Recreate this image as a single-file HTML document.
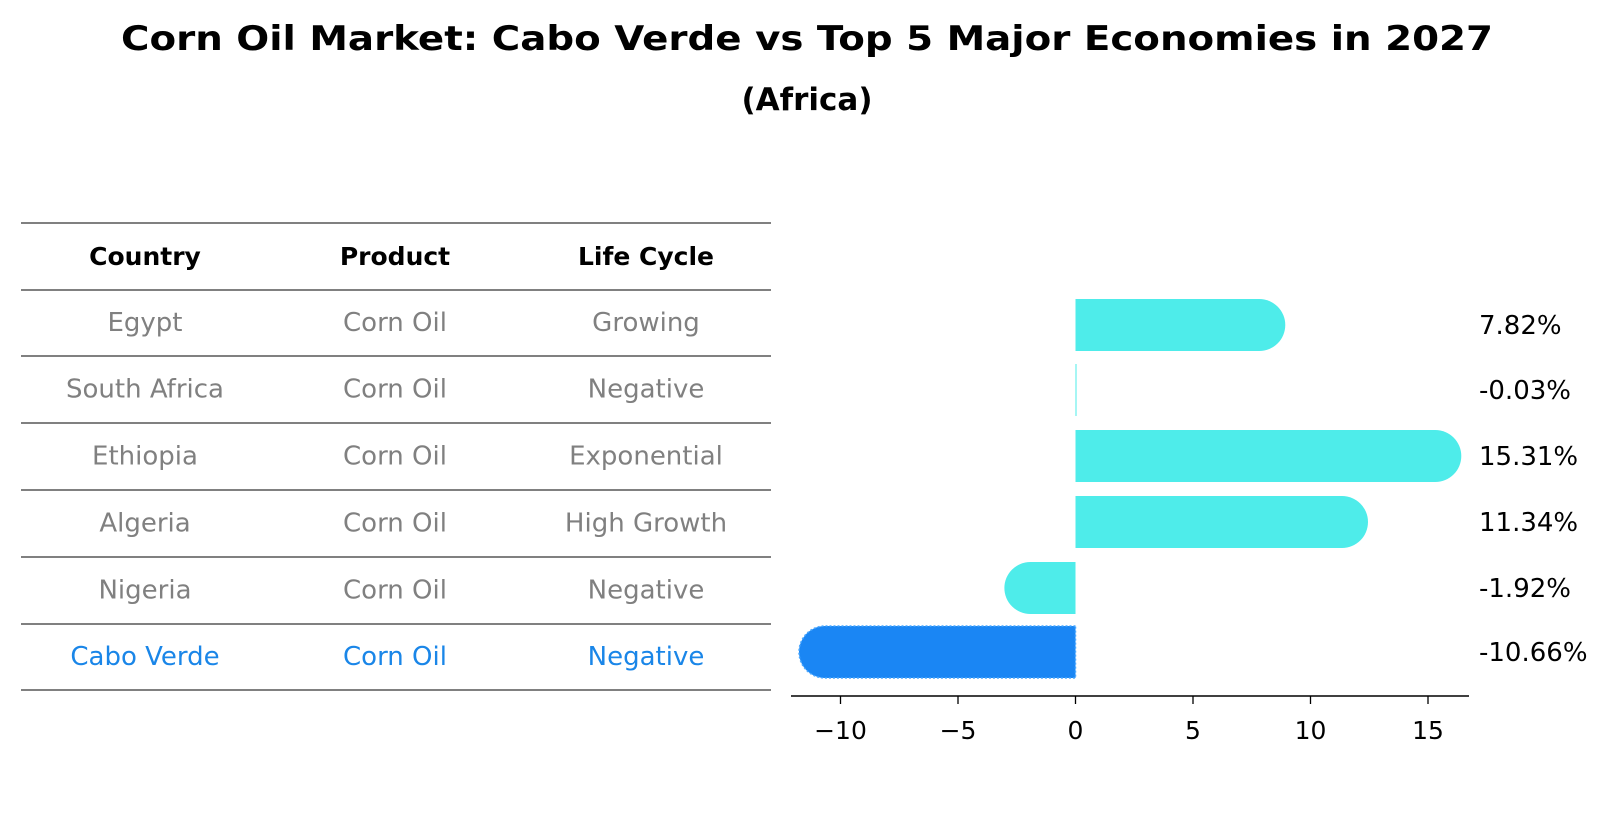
<!DOCTYPE html>
<html><head><meta charset="utf-8"><style>
body{margin:0;background:#fff;}
svg{display:block;font-family:"DejaVu Sans","Liberation Sans",sans-serif;}
</style></head><body>
<svg id="chart" width="1614" height="823" viewBox="0 0 1614 823">
<text x="807" y="50" text-anchor="middle" font-size="34" font-weight="bold" textLength="1372" lengthAdjust="spacingAndGlyphs">Corn Oil Market: Cabo Verde vs Top 5 Major Economies in 2027</text>
<text x="807" y="110" text-anchor="middle" font-size="31" font-weight="bold">(Africa)</text>
<g id="table"></g>
<g id="bars"></g>
</svg>
<script>
const countries=["Egypt","South Africa","Ethiopia","Algeria","Nigeria","Cabo Verde"];
const products=["Corn Oil","Corn Oil","Corn Oil","Corn Oil","Corn Oil","Corn Oil"];
const lifeCycles=["Growing","Negative","Exponential","High Growth","Negative","Negative"];
const values=[7.82,-0.03,15.31,11.34,-1.92,-10.66];
const valueLabels=["7.82%","-0.03%","15.31%","11.34%","-1.92%","-10.66%"];
const ticks=[-10,-5,0,5,10,15];
const headers=["Country","Product","Life Cycle"];

const NS="http://www.w3.org/2000/svg";
function mk(tag,attrs,parent){const e=document.createElementNS(NS,tag);for(const k in attrs)e.setAttribute(k,attrs[k]);parent.appendChild(e);return e;}
const tbl=document.getElementById('table');
const bars=document.getElementById('bars');
const colX=[145,395,646];
const lineY=[223,290,356,423,490,557,624,690];
lineY.forEach((y,i)=>{const l=mk('line',{x1:21,x2:771,y1:y,y2:y,stroke:'#000','stroke-width':1},tbl);

});
headers.forEach((h,i)=>{const t=mk('text',{x:colX[i],y:265,'text-anchor':'middle','font-size':25,'font-weight':'bold'},tbl);t.textContent=h;

});
countries.forEach((c,r)=>{
  const y=(lineY[r+1]+lineY[r+2])/2+8;
  const col=r===countries.length-1?'#1a86e8':'#808080';
  [c,products[r],lifeCycles[r]].forEach((v,i)=>{const t=mk('text',{x:colX[i],y:y,'text-anchor':'middle','font-size':26,fill:col},tbl);t.textContent=v;
  
  });
});
const x0=1075.5, ppu=23.5;
const xs=v=>x0+v*ppu;
const barCenters=[325,390,456,522,588,652];
const bh=52, r=26;
values.forEach((v,i)=>{
  const cy=barCenters[i], top=cy-bh/2;
  const last=i===values.length-1;
  const fill=last?'#1a86f4':'#4eecea';
  const xe=xs(v); let d;
  if(Math.abs(v)<0.2){d=`M${x0},${top} L${x0+1},${top} L${x0+1},${top+bh} L${x0},${top+bh} Z`;}
  else if(v>0){d=`M${x0},${top} L${xe},${top} A${r},${r} 0 0 1 ${xe},${top+bh} L${x0},${top+bh} Z`;}
  else{d=`M${x0},${top} L${xe},${top} A${r},${r} 0 0 0 ${xe},${top+bh} L${x0},${top+bh} Z`;}
  const p=mk('path',{d:d,fill:fill},bars);
  if(last){p.setAttribute('stroke','#4aa8ff');p.setAttribute('stroke-width','1.5');p.setAttribute('stroke-dasharray','2 2');}
  
  
  const t=mk('text',{x:1479,y:cy+9,'font-size':26},bars);t.textContent=valueLabels[i];
  
  
});
const ax=mk('line',{x1:791,x2:1469,y1:696,y2:696,stroke:'#000','stroke-width':1.6},bars);


ticks.forEach(v=>{
  const tk=mk('line',{x1:xs(v),x2:xs(v),y1:696,y2:704,stroke:'#000','stroke-width':1.3},bars);
  
  
  const t=mk('text',{x:xs(v),y:739,'text-anchor':'middle','font-size':25},bars);t.textContent=v<0?'\u2212'+Math.abs(v):String(v);
  
  
});
</script>
</body></html>
